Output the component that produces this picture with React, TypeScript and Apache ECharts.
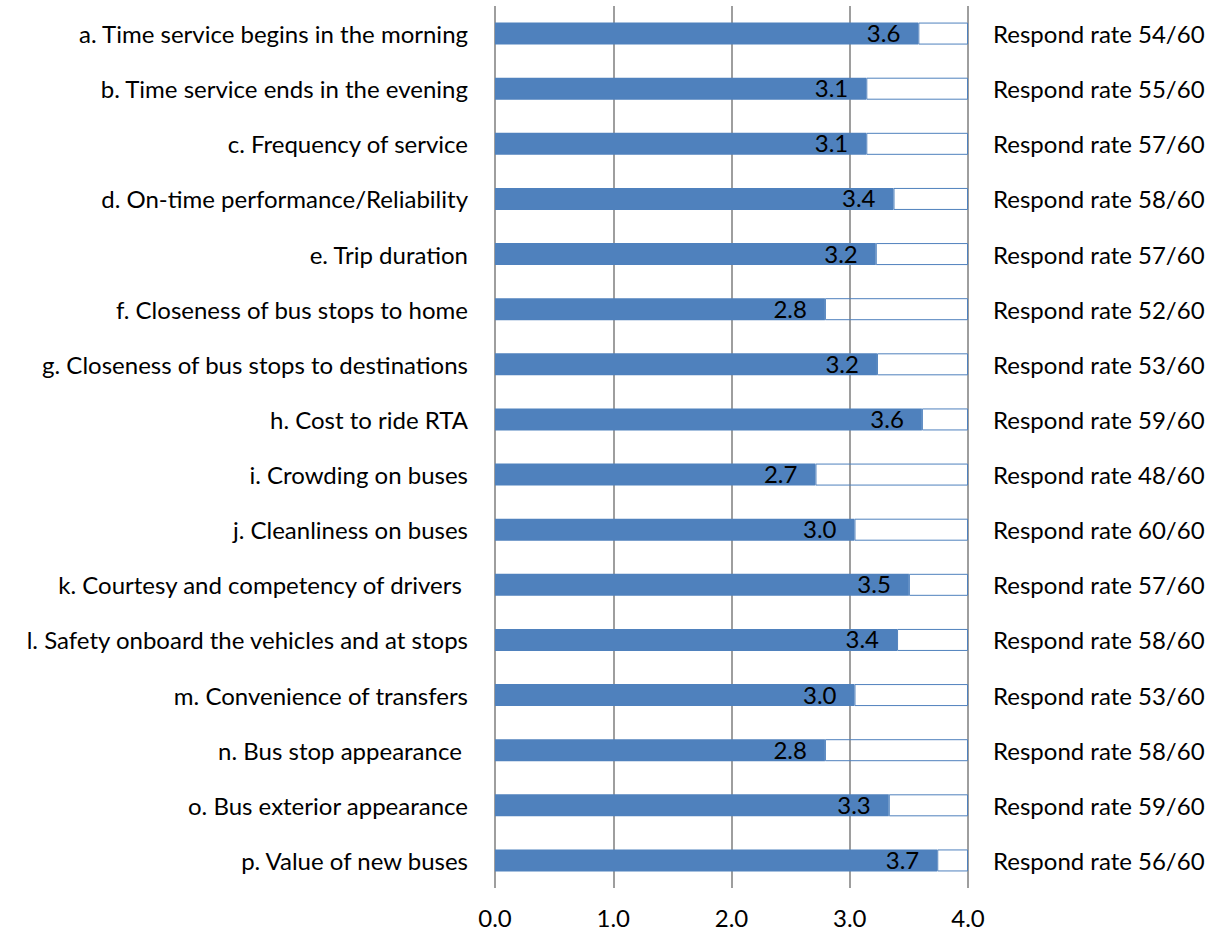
import React, { useEffect, useRef } from "react";
import * as echarts from "echarts";

const categories = [
  "a. Time service begins in the morning",
  "b. Time service ends in the evening",
  "c. Frequency of service",
  "d. On-time performance/Reliability",
  "e. Trip duration",
  "f. Closeness of bus stops to home",
  "g. Closeness of bus stops to destinations",
  "h. Cost to ride RTA",
  "i. Crowding on buses",
  "j. Cleanliness on buses",
  "k. Courtesy and competency of drivers ",
  "l. Safety onboard the vehicles and at stops",
  "m. Convenience of transfers",
  "n. Bus stop appearance ",
  "o. Bus exterior appearance",
  "p. Value of new buses",
];

const scores = [3.58, 3.14, 3.14, 3.37, 3.22, 2.79, 3.23, 3.61, 2.71, 3.04, 3.5, 3.4, 3.04, 2.79, 3.33, 3.74];

const respondents = [54, 55, 57, 58, 57, 52, 53, 59, 48, 60, 57, 58, 53, 58, 59, 56];
const totalRespondents = 60;

const scaleMax = 4;
const xTicks = [0, 1, 2, 3, 4];

const FONT = "Lato";
const FS = 24;

export default function App() {
  const ref = useRef<HTMLDivElement>(null);
  useEffect(() => {
    if (!ref.current) return;
    const chart = echarts.init(ref.current, null, { renderer: "svg" });
    const rateLabels = respondents.map((r) => `Respond rate ${r}/${totalRespondents}`);
    chart.setOption({
      animation: false,
      backgroundColor: "#ffffff",
      textStyle: { fontFamily: FONT },
      grid: { left: 495, right: 252, top: 6, bottom: 48, containLabel: false },
      xAxis: {
        type: "value",
        min: xTicks[0],
        max: xTicks[xTicks.length - 1],
        interval: 1,
        axisLine: { show: false },
        axisTick: { show: false },
        splitLine: { show: true, lineStyle: { color: "#868686", width: 1.6 } },
        axisLabel: {
          color: "#000",
          fontSize: FS,
          fontFamily: FONT,
          margin: 17,
          formatter: (v: number) => v.toFixed(1),
        },
      },
      yAxis: [
        {
          type: "category",
          inverse: true,
          data: categories,
          axisLine: { show: false },
          axisTick: { show: false },
          axisLabel: { color: "#000", fontSize: FS, fontFamily: FONT, margin: 27 },
        },
        {
          type: "category",
          inverse: true,
          position: "right",
          data: rateLabels,
          axisLine: { show: false },
          axisTick: { show: false },
          axisLabel: { color: "#000", fontSize: FS, fontFamily: FONT, margin: 25 },
        },
      ],
      series: [
        {
          type: "bar",
          stack: "s",
          yAxisIndex: 0,
          barWidth: 22,
          data: scores,
          itemStyle: { color: "#4F81BD" },
          label: {
            show: true,
            position: "insideRight",
            distance: 18,
            color: "#000",
            fontSize: FS,
            fontFamily: FONT,
            offset: [0, -1],
            formatter: (p: any) => Number(p.value).toFixed(1),
          },
        },
        {
          type: "bar",
          stack: "s",
          yAxisIndex: 0,
          barWidth: 22,
          data: scores.map((v) => +(scaleMax - v).toFixed(2)),
          itemStyle: { color: "rgba(255,255,255,0)", borderColor: "#4F81BD", borderWidth: 1 },
          silent: true,
        },
      ],
    });
    return () => chart.dispose();
  }, []);
  return (
    <div
      ref={ref}
      style={{ position: "fixed", left: 0, top: 0, width: 1220, height: 936, background: "#fff" }}
    />
  );
}
